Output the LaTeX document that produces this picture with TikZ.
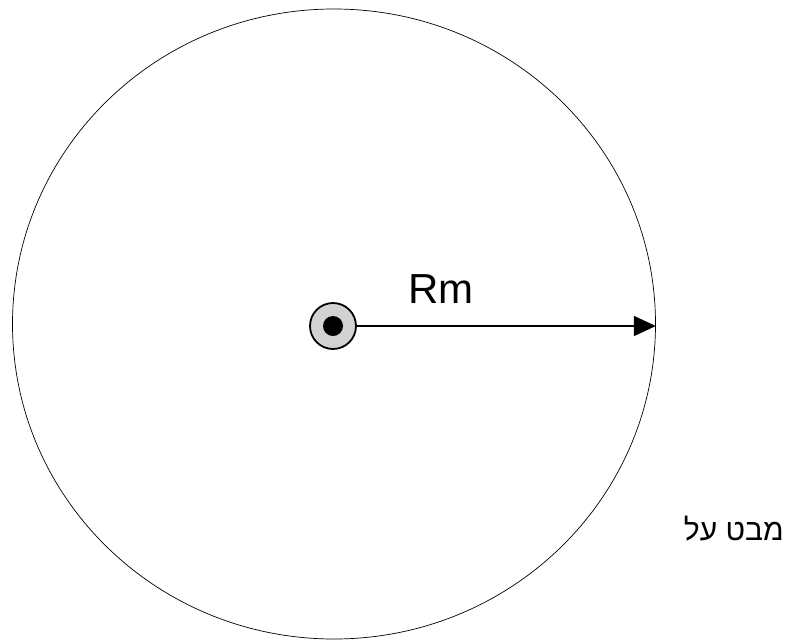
\documentclass[tikz,border=0pt]{standalone}
\usepackage{fontspec}
\setmainfont{Liberation Sans}
\newfontfamily\hebfont[Script=Hebrew]{Liberation Sans}
\TeXXeTstate=1
\usetikzlibrary{arrows.meta, shapes.geometric, positioning}

\begin{document}
\begin{tikzpicture}[x=1pt, y=-1pt,
    rimline/.style={draw, ellipse, line width=0.7pt, inner sep=0pt},
    hubring/.style={draw, circle, line width=1.8pt, fill=gray!35, inner sep=0pt, minimum size=46pt},
    hubcore/.style={circle, fill=black, inner sep=0pt, minimum size=20pt},
    radius arrow/.style={line width=1.6pt, -{Triangle[length=22pt, width=20pt]}}]
  \useasboundingbox (0,0) rectangle (789,640);
  \node[rimline, minimum width=643pt, minimum height=630pt]
    (rim) at (334,324) {};
  \node[hubring] (hub) at (333,326) {};
  \node[hubcore] (core) at (hub.center) {};
  \draw[radius arrow] (hub.east) -- (hub.east -| rim.east);
  \node[font=\fontsize{42}{46}\selectfont, inner sep=0pt] (rm) at (441,289) {Rm};
  \node[font=\fontsize{30}{34}\selectfont, anchor=base east, inner sep=0pt]
    (view) at (784,540) {\hebfont\beginR מבט על\endR};
\end{tikzpicture}
\end{document}
